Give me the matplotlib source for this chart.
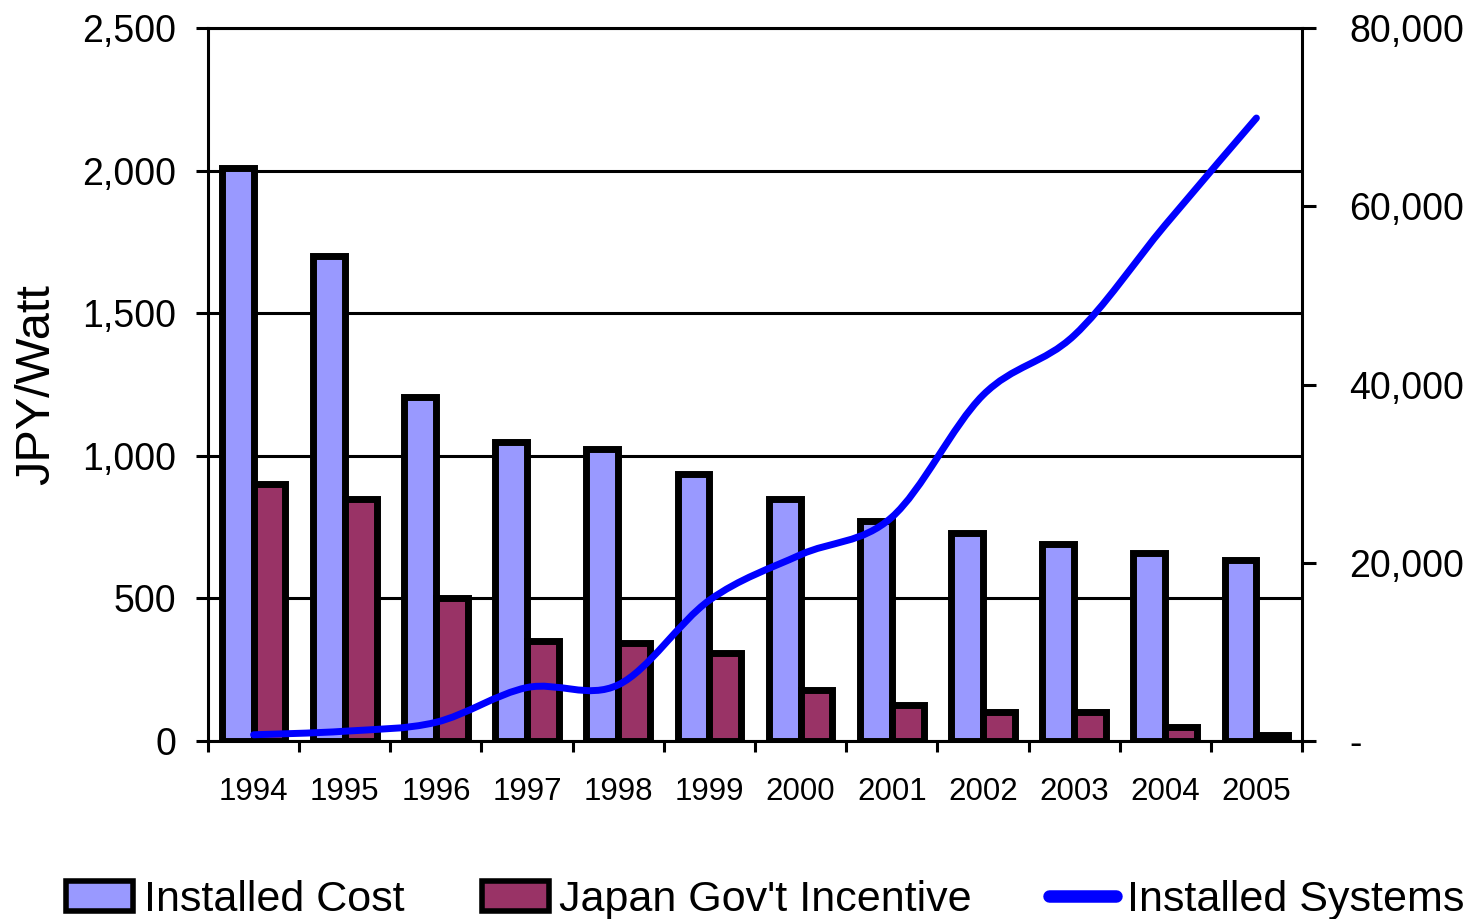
import matplotlib.pyplot as plt
import numpy as np
from matplotlib.path import Path
from matplotlib.patches import PathPatch, Patch
from matplotlib.lines import Line2D
from matplotlib.ticker import FuncFormatter

plt.rcParams["font.family"] = ["Liberation Sans", "DejaVu Sans"]

YEARS = ["1994", "1995", "1996", "1997", "1998", "1999",
         "2000", "2001", "2002", "2003", "2004", "2005"]
INSTALLED_COST = [2010, 1700, 1205, 1050, 1025, 935, 848, 770, 730, 690, 660, 635]
GOV_INCENTIVE = [900, 850, 500, 350, 345, 310, 180, 125, 100, 100, 50, 20]
INSTALLED_SYSTEMS = [700, 1100, 2100, 6000, 6300, 15800, 20900, 25100,
                     38800, 45500, 57900, 69900]

COST_COLOR = "#9999FF"
INC_COLOR = "#993366"
LINE_COLOR = "#0000FF"
LW = 2.2


def smooth_path(xs, ys):
    # Catmull-Rom through the points, drawn as cubic bezier segments
    pts = np.column_stack([xs, ys]).astype(float)
    ext = np.vstack([pts[0], pts, pts[-1]])
    verts = [tuple(pts[0])]
    codes = [Path.MOVETO]
    for i in range(len(pts) - 1):
        p0, p1, p2, p3 = ext[i], ext[i + 1], ext[i + 2], ext[i + 3]
        c1 = p1 + (p2 - p0) / 6
        c2 = p2 - (p3 - p1) / 6
        verts += [tuple(c1), tuple(c2), tuple(p2)]
        codes += [Path.CURVE4] * 3
    return Path(verts, codes)


fig = plt.figure(figsize=(14.76, 9.19), dpi=100)
ax = fig.add_axes([208 / 1476, 1 - 741 / 919, 1094 / 1476, 713 / 919])

x = np.arange(len(YEARS))
w = 0.35
ax.bar(x - w / 2, INSTALLED_COST, w, color=COST_COLOR, edgecolor="black", linewidth=5)
ax.bar(x + w / 2, GOV_INCENTIVE, w, color=INC_COLOR, edgecolor="black", linewidth=5)

ax.set_xlim(-0.5, len(YEARS) - 0.5)
ax.set_ylim(0, 2500)
ax.set_yticks(np.arange(0, 2501, 500))
ax.yaxis.set_major_formatter(FuncFormatter(lambda v, p: f"{v:,.0f}"))
ax.set_axisbelow(True)
ax.grid(axis="y", color="black", linewidth=LW)

ax.set_xticks(x)
ax.set_xticklabels(YEARS)
ax.set_xticks(np.arange(-0.5, len(YEARS)), minor=True)
ax.tick_params(axis="x", which="major", length=0, labelsize=22.5, pad=26)
ax.tick_params(axis="x", which="minor", length=8, width=LW, direction="out")
ax.tick_params(axis="y", length=9, width=LW, direction="out", labelsize=27, pad=14)

for side in ["left", "bottom", "top", "right"]:
    ax.spines[side].set_linewidth(LW)
ax.spines["right"].set_visible(False)

ax.set_ylabel("JPY/Watt", fontsize=35)
ax.yaxis.set_label_coords(-0.136, 0.5)

ax2 = ax.twinx()
ax2.set_ylim(0, 80000)
ax2.set_yticks(np.arange(0, 80001, 20000))
ax2.yaxis.set_major_formatter(
    FuncFormatter(lambda v, p: "-" if v == 0 else f"{v:,.0f}"))
ax2.tick_params(axis="y", length=10, width=LW, direction="out", labelsize=27, pad=24)
for side in ["left", "bottom", "top"]:
    ax2.spines[side].set_visible(False)
ax2.spines["right"].set_linewidth(LW)

ax2.add_patch(PathPatch(smooth_path(x, INSTALLED_SYSTEMS), facecolor="none",
                        edgecolor=LINE_COLOR, linewidth=5, capstyle="round"))

handles = [
    Patch(facecolor=COST_COLOR, edgecolor="black", linewidth=4),
    Patch(facecolor=INC_COLOR, edgecolor="black", linewidth=4),
    Line2D([], [], color=LINE_COLOR, linewidth=9, solid_capstyle="round"),
]
labels = ["Installed Cost", "Japan Gov't Incentive", "Installed Systems"]
fig.legend(handles, labels, loc="center", bbox_to_anchor=(0.5185, 1 - 900 / 919),
           ncol=3, frameon=False, fontsize=31, handlelength=1.55,
           handletextpad=0.25, columnspacing=1.8, borderpad=0)

fig.savefig("out.png", dpi=100)
